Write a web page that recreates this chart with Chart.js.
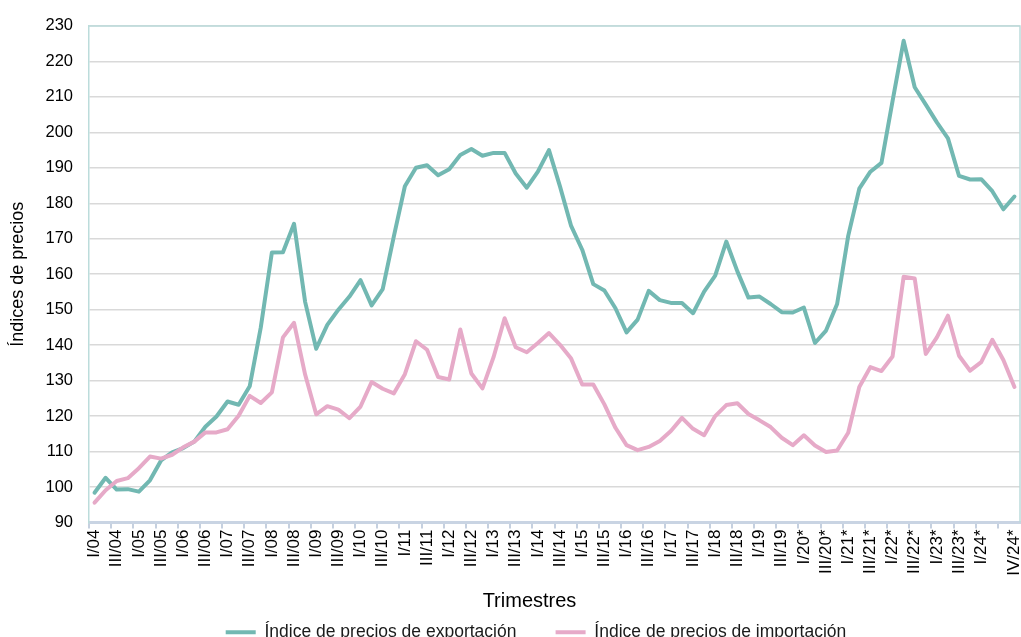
<!DOCTYPE html>
<html lang="es">
<head>
<meta charset="utf-8">
<title>Índices de precios</title>
<script src="https://cdn.jsdelivr.net/npm/chart.js@4/dist/chart.umd.min.js"></script>
<style>
  html, body { margin: 0; padding: 0; background: #fff; overflow: hidden; }
  #wrap { width: 1021px; height: 651px; position: relative; }
</style>
</head>
<body>
<div id="wrap"><canvas id="preciosChart"></canvas></div>
<script>
// categorías: trimestres I/04 .. IV/24 (desde 2020 con asterisco)
const quarters = [
  "I/04", "II/04", "III/04", "IV/04", "I/05", "II/05", "III/05", "IV/05",
  "I/06", "II/06", "III/06", "IV/06", "I/07", "II/07", "III/07", "IV/07",
  "I/08", "II/08", "III/08", "IV/08", "I/09", "II/09", "III/09", "IV/09",
  "I/10", "II/10", "III/10", "IV/10", "I/11", "II/11", "III/11", "IV/11",
  "I/12", "II/12", "III/12", "IV/12", "I/13", "II/13", "III/13", "IV/13",
  "I/14", "II/14", "III/14", "IV/14", "I/15", "II/15", "III/15", "IV/15",
  "I/16", "II/16", "III/16", "IV/16", "I/17", "II/17", "III/17", "IV/17",
  "I/18", "II/18", "III/18", "IV/18", "I/19", "II/19", "III/19", "IV/19",
  "I/20*", "II/20*", "III/20*", "IV/20*", "I/21*", "II/21*", "III/21*", "IV/21*",
  "I/22*", "II/22*", "III/22*", "IV/22*", "I/23*", "II/23*", "III/23*", "IV/23*",
  "I/24*", "II/24*", "III/24*", "IV/24*"
];

// etiquetas visibles en el eje (una de cada dos, más la última)
const tickLabels = [
  "I/04", "III/04", "I/05", "III/05", "I/06", "III/06", "I/07", "III/07",
  "I/08", "III/08", "I/09", "III/09", "I/10", "III/10", "I/11", "III/11",
  "I/12", "III/12", "I/13", "III/13", "I/14", "III/14", "I/15", "III/15",
  "I/16", "III/16", "I/17", "III/17", "I/18", "III/18", "I/19", "III/19",
  "I/20*", "III/20*", "I/21*", "III/21*", "I/22*", "III/22*", "I/23*", "III/23*",
  "I/24*", "IV/24*"
];

const exportIndex = [
  98.4, 102.6, 99.3, 99.4, 98.7, 101.9, 107.5, 109.8,
  111.0, 112.8, 117.0, 119.9, 124.1, 123.2, 128.4, 145.0,
  166.1, 166.2, 174.2, 152.2, 139.0, 145.7, 150.0, 153.7,
  158.3, 151.2, 155.8, 170.6, 184.8, 190.0, 190.7, 187.9,
  189.6, 193.6, 195.3, 193.4, 194.2, 194.2, 188.4, 184.4,
  188.9, 195.0, 184.7, 173.6, 166.9, 157.2, 155.4, 150.4,
  143.6, 147.2, 155.3, 152.7, 151.9, 151.9, 149.0, 155.1,
  159.6, 169.2, 160.8, 153.4, 153.7, 151.6, 149.3, 149.2,
  150.6, 140.6, 144.1, 151.6, 170.8, 184.1, 188.9, 191.4,
  208.8, 225.8, 212.7, 207.8, 202.8, 198.3, 187.7, 186.7,
  186.8, 183.4, 178.3, 181.9
];

const importIndex = [
  95.6, 99.1, 101.7, 102.5, 105.3, 108.6, 108.0, 109.1,
  111.2, 112.8, 115.4, 115.4, 116.3, 120.1, 125.7, 123.7,
  126.7, 142.2, 146.3, 131.7, 120.5, 122.8, 121.8, 119.4,
  122.7, 129.6, 127.7, 126.4, 131.8, 141.1, 138.7, 131.0,
  130.3, 144.4, 132.0, 127.8, 136.6, 147.6, 139.4, 138.0,
  140.6, 143.4, 140.1, 136.2, 128.9, 128.9, 123.3, 116.7,
  111.8, 110.4, 111.3, 113.0, 115.8, 119.5, 116.4, 114.6,
  120.0, 123.1, 123.6, 120.6, 118.8, 116.9, 113.9, 111.8,
  114.6, 111.7, 109.9, 110.3, 115.3, 128.2, 133.8, 132.7,
  136.8, 159.3, 158.8, 137.5, 142.2, 148.3, 137.0, 132.8,
  135.2, 141.5, 135.8, 128.2
];

const GREEN = "#72b8b2";
const PINK = "#e6aac8";
const FONT = "'Liberation Sans', Arial, sans-serif";
const NBSP = "\u00a0";

// marco del área de trazado (arriba y derecha)
const plotFrame = {
  id: "plotFrame",
  beforeDatasetsDraw(chart) {
    const { ctx, chartArea: a } = chart;
    ctx.save();
    ctx.strokeStyle = "#bcdcdb";
    ctx.lineWidth = 1.5;
    ctx.beginPath();
    ctx.moveTo(a.left, a.top);
    ctx.lineTo(a.right, a.top);
    ctx.lineTo(a.right, a.bottom);
    ctx.stroke();
    ctx.restore();
  }
};

// la leyenda del original está algo a la derecha del centro del lienzo
const legendShift = {
  id: "legendShift",
  afterLayout(chart) {
    chart.legend.left += 26;
    chart.legend.right += 26;
  }
};

const ctx = document.getElementById("preciosChart").getContext("2d");

new Chart(ctx, {
  type: "line",
  data: {
    labels: quarters,
    datasets: [
      {
        label: "Índice de precios de exportación",
        data: exportIndex,
        borderColor: GREEN,
        backgroundColor: GREEN,
        borderWidth: 4,
        pointRadius: 0,
        tension: 0,
        borderJoinStyle: "round",
        borderCapStyle: "round",
        order: 1,
      },
      {
        label: "Índice de precios de importación",
        data: importIndex,
        borderColor: PINK,
        backgroundColor: PINK,
        borderWidth: 4,
        pointRadius: 0,
        tension: 0,
        borderJoinStyle: "round",
        borderCapStyle: "round",
        order: 0,
      },
    ],
  },
  plugins: [plotFrame, legendShift],
  options: {
    responsive: true,
    maintainAspectRatio: false,
    animation: false,
    layout: { padding: { top: 23, right: 1, left: 0, bottom: 0 } },
    plugins: {
      tooltip: { enabled: false },
      legend: {
        position: "bottom",
        labels: {
          usePointStyle: true,
          pointStyle: "line",
          pointStyleWidth: 30,
          padding: 10,
          color: "#1a1a1a",
          font: { family: FONT, size: 17.5 },
          sort: (a, b) => a.datasetIndex - b.datasetIndex,
          generateLabels(chart) {
            const items = Chart.defaults.plugins.legend.labels.generateLabels(chart);
            // hueco más ancho entre las dos entradas
            items.forEach((it) => {
              if (it.datasetIndex === 0) it.text += NBSP.repeat(6);
            });
            return items;
          },
        },
      },
    },
    scales: {
      x: {
        type: "category",
        offset: true,
        afterFit: (s) => {
          s.height = 91;
          s.paddingLeft = 0;
          s.paddingRight = 0;
        },
        grid: {
          offset: true,
          drawOnChartArea: false,
          drawTicks: true,
          tickLength: 6,
          lineWidth: 2,
          color: (c) => (c.index % 2 === 0 ? "#c5d0df" : "rgba(0,0,0,0)"),
        },
        border: { color: "#c9d4e3", width: 3 },
        ticks: {
          autoSkip: false,
          minRotation: 90,
          maxRotation: 90,
          padding: 1,
          color: "#000",
          font: { family: FONT, size: 17 },
          callback: function (value, index) {
            const lab = this.getLabelForValue(value);
            return tickLabels.includes(lab) ? lab : "";
          },
        },
        title: {
          display: true,
          text: "Trimestres" + NBSP.repeat(9),
          color: "#000",
          font: { family: FONT, size: 20 },
          padding: { top: 0, bottom: 0 },
        },
      },
      y: {
        min: 90,
        max: 230,
        afterFit: (s) => { s.width = 89; },
        grid: { color: "#d9d9d9", lineWidth: 1.5, drawTicks: false },
        border: { color: "#bcdcdb", width: 1.5 },
        ticks: {
          stepSize: 10,
          padding: 16,
          color: "#000",
          font: { family: FONT, size: 16.5 },
        },
        title: {
          display: true,
          text: "Índices de precios",
          color: "#000",
          font: { family: FONT, size: 18 },
          padding: { top: 7, bottom: 0 },
        },
      },
    },
  },
});
</script>
</body>
</html>
